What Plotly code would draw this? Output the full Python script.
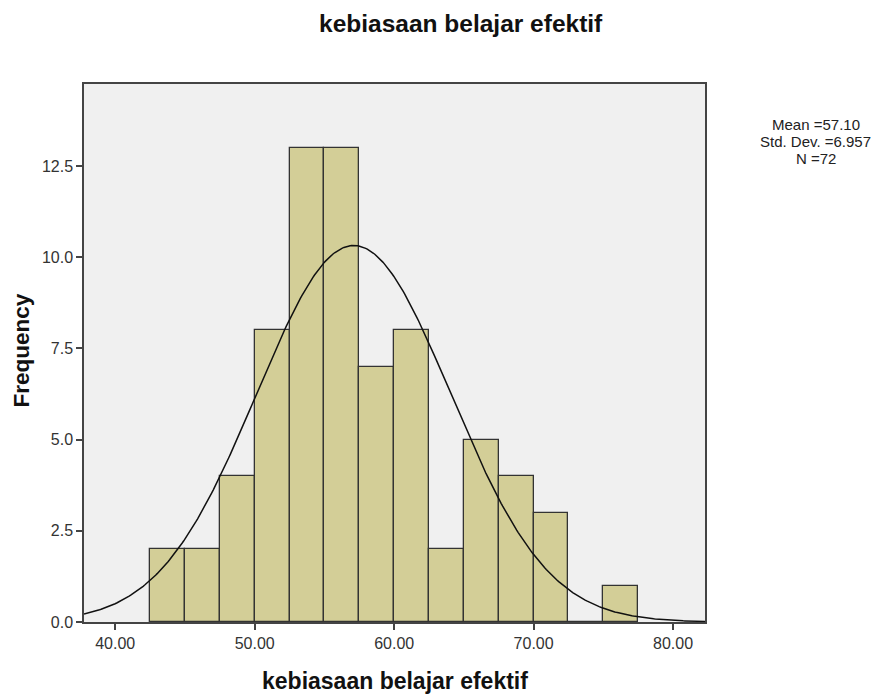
import numpy as np
import plotly.graph_objects as go

# Data
bin_edges = [42.5, 45.0, 47.5, 50.0, 52.5, 55.0, 57.5, 60.0, 62.5, 65.0, 67.5, 70.0, 72.5, 75.0, 77.5]
counts = [2, 2, 4, 8, 13, 13, 7, 8, 2, 5, 4, 3, 0, 1]
mean_val = 57.10
std_val = 6.957
n_val = 72
x_ticks = [40, 50, 60, 70, 80]
x_tick_labels = ["40.00", "50.00", "60.00", "70.00", "80.00"]
y_ticks = [0, 2.5, 5, 7.5, 10, 12.5]
y_tick_labels = ["0.0", "2.5", "5.0", "7.5", "10.0", "12.5"]
stats_lines = [f"Mean ={mean_val:.2f}", f"Std. Dev. ={std_val:.3f}", f"N ={n_val}"]

bin_w = bin_edges[1] - bin_edges[0]
centers = [e + bin_w / 2 for e in bin_edges[:-1]]

xr = [37.76, 82.29]
xs = np.linspace(xr[0], xr[1], 400)
ys = n_val * bin_w / (std_val * np.sqrt(2 * np.pi)) * np.exp(-0.5 * ((xs - mean_val) / std_val) ** 2)

fig = go.Figure()
fig.add_trace(go.Bar(
    x=centers, y=counts, width=bin_w,
    marker=dict(color="#d3ce97", line=dict(color="#333333", width=1.3)),
    showlegend=False, hoverinfo="x+y",
))
fig.add_trace(go.Scatter(
    x=xs, y=ys, mode="lines", line=dict(color="#111111", width=1.5),
    showlegend=False, hoverinfo="skip",
))

annotations = [
    dict(text="<b>kebiasaan belajar efektif</b>", xref="paper", yref="paper",
         x=0.607, y=1.113, showarrow=False, font=dict(size=24.5, color="#111111"),
         xanchor="center", yanchor="middle"),
    dict(text="<b>kebiasaan belajar efektif</b>", xref="paper", yref="paper",
         x=0.501, y=-0.110, showarrow=False, font=dict(size=23, color="#111111"),
         xanchor="center", yanchor="middle"),
    dict(text="<b>Frequency</b>", xref="paper", yref="paper",
         x=-0.101, y=0.505, showarrow=False, textangle=-90, font=dict(size=22.5, color="#111111"),
         xanchor="center", yanchor="middle"),
]
for i, line in enumerate(stats_lines):
    annotations.append(dict(
        text=line, xref="paper", yref="paper", x=1.178, y=0.925 - i * 0.0316,
        showarrow=False, font=dict(size=15, color="#222222"),
        xanchor="center", yanchor="middle"))

fig.update_layout(
    width=884, height=695,
    margin=dict(l=76, r=187, t=76, b=81),
    paper_bgcolor="white", plot_bgcolor="#f0f0f0",
    font=dict(family="Liberation Sans, Arial, sans-serif", size=12, color="#222222"),
    bargap=0,
    xaxis=dict(range=xr, tickvals=x_ticks, ticktext=x_tick_labels,
               showgrid=False, zeroline=False, showline=True, linecolor="#444444", linewidth=1.5,
               mirror=True, ticks="outside", ticklen=6, tickcolor="#444444", tickwidth=1.5,
               tickfont=dict(size=16, color="#333333")),
    yaxis=dict(range=[0, 14.75], tickvals=y_ticks, ticktext=y_tick_labels,
               showgrid=False, zeroline=False, showline=True, linecolor="#444444", linewidth=1.5,
               mirror=True, ticks="outside", ticklen=6, tickcolor="#444444", tickwidth=1.5,
               tickfont=dict(size=16, color="#333333")),
    annotations=annotations,
)

fig.write_html("out.html")
